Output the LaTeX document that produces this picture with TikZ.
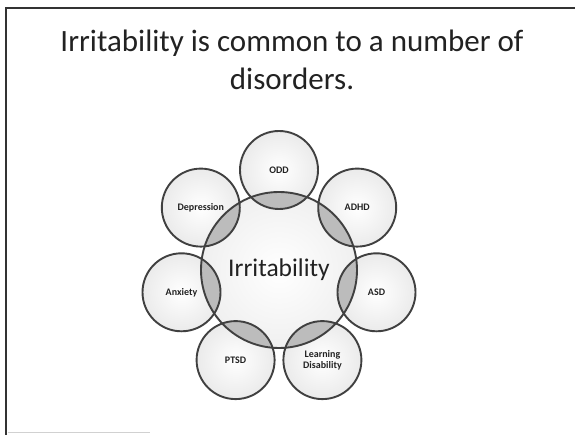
\documentclass[tikz,border=0pt]{standalone}
\usepackage{fontspec}
\setmainfont{Carlito}
\definecolor{edge}{HTML}{404040}
\definecolor{lens}{HTML}{BCBCBC}
\definecolor{ink}{HTML}{222222}
\tikzset{
  disc/.style={circle, minimum size=78pt, inner sep=0pt, shading=radial,
    inner color=white, outer color=black!8, text=ink, align=center,
    font=\fontsize{10}{11}\selectfont\bfseries},
  hub/.style={circle, minimum size=156pt, inner sep=0pt, shading=radial,
    inner color=white, outer color=black!6, text=ink,
    font=\fontsize{25.5}{28}\selectfont},
  ring/.style={draw=edge, line width=1.9pt},
  titletext/.style={font=\fontsize{31}{36}\selectfont, text=ink, anchor=base, inner sep=0pt},
}
\begin{document}
\begin{tikzpicture}[x=1pt,y=-1pt]
\useasboundingbox (0,0) rectangle (575,435);
\fill[white] (0,0) rectangle (575,435);
\coordinate (tr) at (575,8);
\coordinate (tl) at (6,8);
\coordinate (bl) at (6,435);
\coordinate (b1) at (8,432.5);
\coordinate (b2) at (150,432.5);
\draw[line width=2.4pt, black!80] (tr) -- (tl) -- (bl);
\draw[line width=1pt, black!18] (b1) -- (b2);

\node[titletext] (title1) at (292,52) {Irritability is common to a number of};
\node[titletext] (title2) at (292,90) {disorders.};

\node[disc] (odd) at (279,170) {ODD};
\node[disc] (adhd) at (357.2,207.6) {ADHD};
\node[disc] (asd) at (376.5,292.3) {ASD};
\node[disc] (ld) at (322.4,360.1) {Learning\\Disability};
\node[disc] (ptsd) at (235.6,360.1) {PTSD};
\node[disc] (anx) at (181.5,292.3) {Anxiety};
\node[disc] (dep) at (200.8,207.6) {Depression};
\node[hub] (hub) at (279,270) {Irritability};

\foreach \n in {odd,adhd,asd,ld,ptsd,anx,dep}{
  \begin{scope}
    \clip (\n.center) circle[radius=39];
    \fill[lens] (hub.center) circle[radius=78];
  \end{scope}
}
\draw[ring] (hub.center) circle[radius=78];
\foreach \n in {odd,adhd,asd,ld,ptsd,anx,dep}{
  \draw[ring] (\n.center) circle[radius=39];
}
\end{tikzpicture}
\end{document}
